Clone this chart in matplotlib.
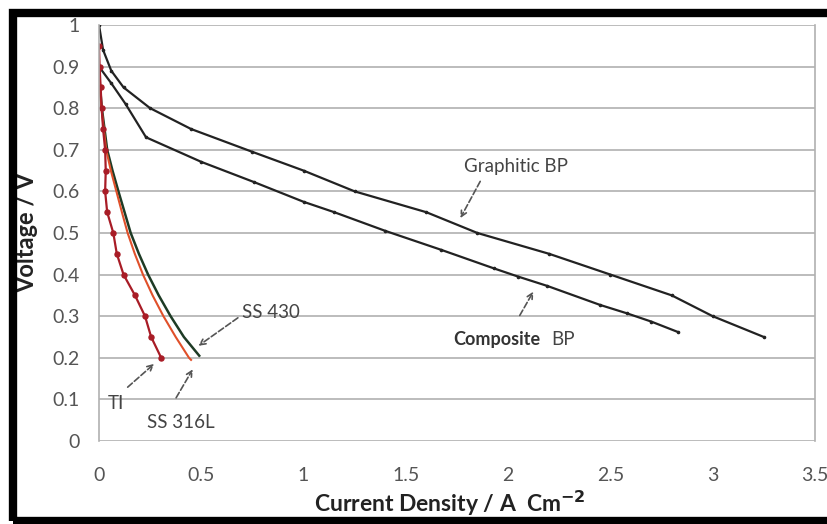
import matplotlib.pyplot as plt
from matplotlib.patches import Rectangle

# data
graphitic_x = [0, 0.02, 0.06, 0.12, 0.25, 0.45, 0.75, 1.0, 1.25, 1.6, 1.85, 2.2, 2.5, 2.8, 3.0, 3.25]
graphitic_y = [1.0, 0.94, 0.89, 0.85, 0.80, 0.75, 0.695, 0.65, 0.60, 0.55, 0.50, 0.45, 0.40, 0.35, 0.30, 0.25]

composite_x = [0, 0.06, 0.13, 0.23, 0.5, 0.76, 1.0, 1.15, 1.4, 1.67, 1.93, 2.05, 2.19, 2.45, 2.58, 2.7, 2.83]
composite_y = [0.9, 0.86, 0.81, 0.73, 0.671, 0.622, 0.575, 0.55, 0.505, 0.46, 0.415, 0.395, 0.373, 0.327, 0.307, 0.287, 0.262]

ti_x = [0, 0.003, 0.008, 0.013, 0.02, 0.03, 0.033, 0.03, 0.04, 0.07, 0.087, 0.12, 0.176, 0.225, 0.255, 0.304]
ti_y = [0.95, 0.9, 0.85, 0.8, 0.75, 0.7, 0.65, 0.6, 0.55, 0.5, 0.45, 0.4, 0.35, 0.3, 0.25, 0.2]

ss316_x = [0, 0.004, 0.012, 0.035, 0.058, 0.085, 0.112, 0.14, 0.175, 0.215, 0.262, 0.315, 0.375, 0.44, 0.45]
ss316_y = [0.9, 0.85, 0.8, 0.7, 0.65, 0.6, 0.55, 0.5, 0.45, 0.4, 0.35, 0.3, 0.25, 0.2, 0.195]

ss430_x = [0, 0.005, 0.014, 0.04, 0.066, 0.095, 0.125, 0.155, 0.195, 0.24, 0.292, 0.35, 0.415, 0.49]
ss430_y = [0.9, 0.85, 0.8, 0.7, 0.65, 0.6, 0.55, 0.5, 0.45, 0.4, 0.35, 0.3, 0.25, 0.205]

x_ticks = [0, 0.5, 1, 1.5, 2, 2.5, 3, 3.5]
x_tick_labels = ["0", "0.5", "1", "1.5", "2", "2.5", "3", "3.5"]
y_ticks = [0, 0.1, 0.2, 0.3, 0.4, 0.5, 0.6, 0.7, 0.8, 0.9, 1]
y_tick_labels = ["0", "0.1", "0.2", "0.3", "0.4", "0.5", "0.6", "0.7", "0.8", "0.9", "1"]

plt.rcParams['font.family'] = ['Lato', 'DejaVu Sans']

fig = plt.figure(figsize=(8.28, 5.24), dpi=100)
ax = fig.add_axes([99/828, 1 - 441/524, (815 - 99)/828, (441 - 25)/524])

ax.plot(graphitic_x, graphitic_y, color="#222222", lw=1.6, marker="o", ms=1.6)
ax.plot(composite_x, composite_y, color="#222222", lw=1.6, marker="o", ms=1.6)
ax.plot(ss430_x, ss430_y, color="#1e3b25", lw=1.8)
ax.plot(ss316_x, ss316_y, color="#e0502a", lw=1.5)
ax.plot(ti_x, ti_y, color="#a81c26", lw=1.6, marker="o", ms=3.6)

ax.set_xlim(0, 3.5)
ax.set_ylim(0, 1)
ax.set_xticks(x_ticks, x_tick_labels)
ax.set_yticks(y_ticks, y_tick_labels)
ax.tick_params(axis="both", length=0, labelsize=14, colors="#555555")
ax.tick_params(axis="x", pad=19)
ax.tick_params(axis="y", pad=14)
ax.grid(axis="y", color="#b0b0b0", lw=1.2)
ax.set_axisbelow(True)
for s in ["top", "bottom"]:
    ax.spines[s].set_visible(False)
for s in ["left", "right"]:
    ax.spines[s].set_color("#b0b0b0")
    ax.spines[s].set_linewidth(1.2)

ax.set_xlabel("Current Density / A  Cm$^{\\mathbf{-2}}$", fontsize=16.5, fontweight="bold", color="#222222")
ax.set_ylabel("Voltage / V", fontsize=17, fontweight="bold", color="#222222")
ax.xaxis.set_label_coords(0.49, -0.115)
ax.yaxis.set_label_coords(-0.085, 0.5)

arrow = dict(arrowstyle="->", linestyle="--", color="#555555", lw=1.2)
ax.annotate("", xy=(1.76, 0.53), xytext=(1.87, 0.63), arrowprops=arrow)
ax.text(2.04, 0.66, "Graphitic BP", fontsize=13.5, color="#444444", ha="center", va="center")
ax.annotate("", xy=(2.13, 0.365), xytext=(2.05, 0.296), arrowprops=arrow)
ax.text(2.16, 0.243, "Composite", fontsize=13, fontweight="bold", color="#333333", ha="right", va="center")
ax.text(2.21, 0.243, "BP", fontsize=13.5, color="#444444", ha="left", va="center")
ax.annotate("", xy=(0.475, 0.225), xytext=(0.69, 0.30), arrowprops=arrow)
ax.text(0.70, 0.31, "SS 430", fontsize=13.5, color="#444444", ha="left", va="center")
ax.annotate("", xy=(0.28, 0.19), xytext=(0.13, 0.125), arrowprops=arrow)
ax.text(0.045, 0.09, "TI", fontsize=13.5, color="#444444", ha="left", va="center")
ax.annotate("", xy=(0.465, 0.178), xytext=(0.37, 0.098), arrowprops=arrow)
ax.text(0.4, 0.045, "SS 316L", fontsize=13.5, color="#444444", ha="center", va="center")

# black picture frame, right side runs off the image
fig.patches.append(Rectangle((13/828, 3/524), 830/828, 508/524, transform=fig.transFigure,
                             fill=False, edgecolor="black", linewidth=6))

fig.savefig("out.png", dpi=100)
